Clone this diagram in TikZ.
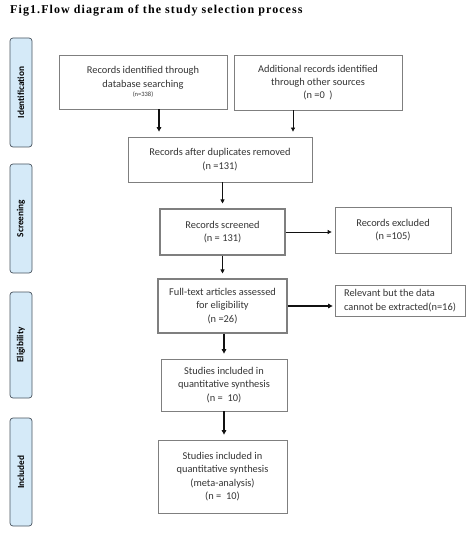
\documentclass[tikz,border=0pt]{standalone}
\usepackage{fontspec}
\setmainfont{Carlito}
\newfontfamily\titlefont[LetterSpace=9]{Liberation Serif}
\usepackage{tikz}
\usetikzlibrary{arrows.meta,calc,positioning}
\definecolor{ink}{HTML}{111111}
\definecolor{frame}{HTML}{7F7F7F}
\definecolor{phase}{HTML}{D5EAF8}
\definecolor{phaseline}{HTML}{4A5560}

\begin{document}
\begin{tikzpicture}[x=1pt,y=-1pt,font=\fontsize{10.4}{13.3}\selectfont,
  box/.style={draw=frame,line width=0.8pt,fill=white,align=center,inner sep=2pt,text=ink!85},
  stage/.style={draw=phaseline,line width=0.7pt,fill=phase,rounded corners=3pt,minimum width=22pt,
    inner sep=0pt,font=\bfseries\fontsize{9.3}{10}\selectfont},
  ar/.style={-{Triangle[length=4pt,width=4pt]},line width=0.8pt,color=ink,shorten >=5pt},
  arb/.style={-{Triangle[length=4.5pt,width=4.5pt]},line width=1.6pt,color=ink,shorten >=5pt}]
  \useasboundingbox[fill=white] (0,0) rectangle (470,534);
  \node[anchor=west,inner sep=0pt,font=\titlefont\bfseries\fontsize{12}{14}\selectfont] (title) at (10,11)
       {Fig1.Flow diagram of the study selection process};
  % phase labels on the left
  \node[stage,minimum height=109pt] (sid)  at (21,92.5)  {\rotatebox{90}{Identification}};
  \node[stage,minimum height=109pt] (sscr) at (21,218.5) {\rotatebox{90}{Screening}};
  \node[stage,minimum height=106pt] (sel)  at (21,345)   {\rotatebox{90}{Eligibility}};
  \node[stage,minimum height=108pt] (sinc) at (21,472)   {\rotatebox{90}{Included}};
  % flow boxes
  \node[box,minimum width=168pt,minimum height=54pt] (db)  at (143,82)
       {Records identified through\\database searching\\[-4pt]{\fontsize{6.5}{8}\selectfont(n=338)}};
  \node[box,minimum width=168pt,minimum height=55pt] (add) at (318,82.5)
       {Additional records identified\\through other sources\\(n =0 \ )};
  \node[box,minimum width=184pt,minimum height=45pt] (dup) at (220,159.5)
       {Records after duplicates removed\\(n =131)};
  \node[box,minimum width=125pt,minimum height=46pt,line width=1.1pt] (scr) at (222.5,232)
       {Records screened\\(n = 131)};
  \node[box,minimum width=116pt,minimum height=46pt] (exc) at (393,230)
       {Records excluded\\(n =105)};
  \node[box,minimum width=129pt,minimum height=54pt,line width=1.1pt] (ft) at (222.5,306)
       {Full-text articles assessed\\for eligibility\\(n =26)};
  \node[box,minimum width=130pt,minimum height=31pt,align=left] (rel) at (400,300.5)
       {Relevant but the data\\cannot be extracted(n=16)};
  \node[box,minimum width=126pt,minimum height=52pt] (st1) at (224,385)
       {Studies included in\\quantitative synthesis\\(n = \ 10)};
  \node[box,minimum width=129pt,minimum height=73pt] (st2) at (222.5,476.5)
       {Studies included in\\quantitative synthesis\\(meta-analysis)\\(n = \ 10)};
  % arrows
  \draw[arb] ([xshift=16pt]db.south) -- ([xshift=16pt]db.south |- dup.north);
  \draw[ar]  ([xshift=-25pt]add.south) -- ([xshift=-25pt]add.south |- dup.north);
  \draw[ar]  (scr.north |- dup.south) -- (scr.north);
  \draw[ar]  (scr.south) -- (ft.north);
  \draw[ar,shorten >=3pt] (scr.east) -- (scr.east -| exc.west);
  \draw[arb,shorten >=2pt] (ft.east) -- (ft.east -| rel.west);
  \draw[arb] (ft.south -| st1.north) -- (st1.north);
  \draw[arb] (st1.south) -- (st1.south |- st2.north);
\end{tikzpicture}
\end{document}
